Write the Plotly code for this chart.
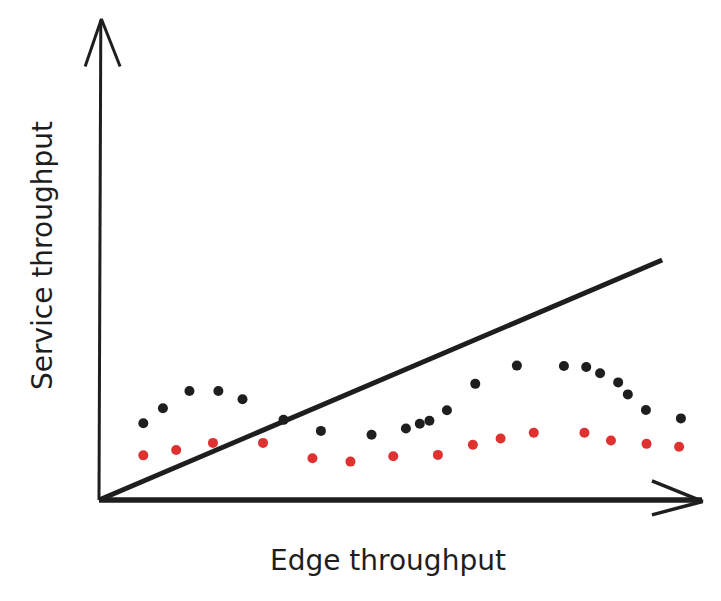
import plotly.graph_objects as go

# edge throughput (x) vs service throughput (y), arbitrary units 0..100
black_x = [7.35, 10.6, 15.0, 19.8, 23.8, 30.6, 36.8, 45.2, 50.9, 53.2, 54.8,
           57.7, 62.4, 69.3, 77.1, 80.8, 83.1, 86.1, 87.7, 90.7, 96.5]
black_y = [16.0, 19.1, 22.7, 22.7, 21.0, 16.7, 14.4, 13.6, 14.9, 15.9, 16.5,
           18.7, 24.2, 28.0, 27.9, 27.7, 26.4, 24.5, 22.0, 18.75, 17.0]

red_x = [7.35, 12.8, 18.9, 27.2, 35.4, 41.7, 48.8, 56.2, 62.0, 66.6, 72.1,
         80.5, 84.9, 90.8, 96.2]
red_y = [9.3, 10.4, 11.9, 11.9, 8.7, 8.0, 9.1, 9.4, 11.5, 12.8, 14.0,
         14.0, 12.4, 11.7, 11.1]

line_x = [0, 93.4]
line_y = [0, 50.0]

x_title = "Edge throughput"
y_title = "Service throughput"

INK = "#1e1e1e"
RED = "#e03131"
FONT = "DejaVu Sans"

# page body has an 8px margin, so targets are shifted by it
PAD = 8
x0_px, y0_px, x_scale, y_scale = 99 - PAD, 500 - PAD, 6.03, 4.8
W, H = 721, 601


def px_x(p):
    return (p - PAD - x0_px) / x_scale


def px_y(p):
    return (y0_px - (p - PAD)) / y_scale


fig = go.Figure()

# y axis with open arrow head
fig.add_scatter(x=[0, 0.3], y=[0, 100], mode="lines",
                line=dict(color=INK, width=3), hoverinfo="skip")
fig.add_scatter(x=[-2.3, 0.4, 3.5], y=[90.3, 100.2, 90.3], mode="lines",
                line=dict(color=INK, width=3), hoverinfo="skip")

# x axis with open arrow head
fig.add_scatter(x=[0, 100], y=[0, 0], mode="lines",
                line=dict(color=INK, width=5.5), hoverinfo="skip")
fig.add_scatter(x=[91.7, 100.1, 91.7], y=[4.0, -0.3, -3.1], mode="lines",
                line=dict(color=INK, width=3.5), hoverinfo="skip")

# diagonal reference line
fig.add_scatter(x=line_x, y=line_y, mode="lines",
                line=dict(color=INK, width=5), hoverinfo="skip")

fig.add_scatter(x=black_x, y=black_y, mode="markers",
                marker=dict(color=INK, size=10, line=dict(width=0)))
fig.add_scatter(x=red_x, y=red_y, mode="markers",
                marker=dict(color=RED, size=10, line=dict(width=0)))

fig.add_annotation(x=px_x(388), y=px_y(560), xref="x", yref="y",
                   text=x_title, showarrow=False,
                   font=dict(family=FONT, size=28, color=INK))
fig.add_annotation(x=px_x(42), y=px_y(256), xref="x", yref="y",
                   text=y_title, showarrow=False, textangle=-90,
                   font=dict(family=FONT, size=28, color=INK))

# plot area fills the page; ranges put the origin at the reference spot
xr = [-x0_px / x_scale, (W - x0_px) / x_scale]
yr = [-(H - y0_px) / y_scale, y0_px / y_scale]

fig.update_layout(
    width=W, height=H,
    margin=dict(l=0, r=0, t=0, b=0),
    showlegend=False,
    plot_bgcolor="white",
    paper_bgcolor="white",
    xaxis=dict(range=xr, visible=False, fixedrange=True),
    yaxis=dict(range=yr, visible=False, fixedrange=True),
)

fig.write_html("out.html")
